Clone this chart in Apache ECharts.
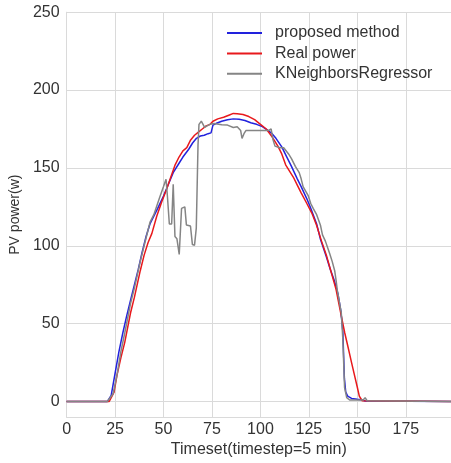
<!DOCTYPE html>
<html>
<head>
<meta charset="utf-8">
<script src="https://cdn.jsdelivr.net/npm/echarts@6/dist/echarts.min.js"></script>
<style>
html,body{margin:0;padding:0;background:#fff;}
#chart{width:451px;height:463px;}
</style>
</head>
<body>
<div id="chart"></div>
<script>
const seriesNames = ['proposed method', 'Real power', 'KNeighborsRegressor'];
const xTicks = [0, 25, 50, 75, 100, 125, 150, 175];
const yTicks = [0, 50, 100, 150, 200, 250];

const proposed = [[0,0],[21,0],[22,0.5],[23,4],[25,18],[27,32],[29,44],[31,55],[33,65],[35,75],[37,85],[39,96],[41,106],[43,114],[45,119],[47,124],[50,132],[53,141],[55,147],[58,153],[60,157],[63,162],[65,166],[67,169],[69,170.5],[71,171],[73,172],[74.5,172.5],[75.5,177.5],[77,178.5],[80,180],[83,181],[86,181.5],[89,181.3],[92,180.5],[95,179],[98,178],[101,176.5],[104,174],[106,172],[108,169],[111,163.5],[114,156],[116,151],[119,143],[121,138],[124,130],[126,124],[129,114],[131,104],[134,93],[136,85],[138,78],[140,69],[141.5,58],[142.5,45],[143.3,15],[144,6],[145,3.5],[147,2],[150,1.5],[152,1.2],[154,0.3],[155,0],[199,0]];

const realPower = [[0,0],[22,0],[23,1],[24.5,6],[26,17],[28,28],[30,38],[33,57],[35,67],[38,84],[40,94],[42,102],[44,108],[46.5,119],[49,128],[51.5,136],[54,145],[56,152],[58,157],[60,161],[62,163],[64,168],[66,171],[68,173],[70,175],[72,177],[74,178],[75.5,180],[78,181.5],[81,182.5],[84,184],[86,185],[88,184.8],[91,184.3],[94,183],[97,181],[100,178],[103,175],[106,170],[109,164],[111,159],[113,152],[115,148],[117,144],[119,139],[121,134],[124,127],[126.5,121],[129,113],[131.5,103],[134,94],[136.5,83],[139,72],[141.7,55],[143.5,44],[145,36],[147,25],[148.5,17],[150,9],[151,3.5],[152.5,0.5],[153.5,0],[199,0]];

const knn = [[0,0],[21,0],[22,0.5],[24,5],[25,11],[25.5,12],[26,17],[28,32],[30,44],[33,63],[35,73],[38,90],[40,100],[43,115],[45,120],[48,131],[50,138],[51.3,142.7],[52,132],[53,114],[54.2,114],[55,139.5],[55.9,106],[56.9,104.6],[58.1,94.5],[59.3,124],[61,125],[61.8,113.4],[63.9,112.7],[64.9,100.8],[66,100.4],[66.9,111.3],[67.8,165],[68.3,178],[69.5,180],[70.5,179],[71.2,176],[72.5,177],[74,178],[76,178.5],[80,177.7],[83,177.5],[86,176],[88,176.5],[89,177],[89.8,174],[90.5,169],[91.5,172],[92.5,174],[97,174],[101,174],[104,174],[105.5,175],[106.5,168],[107.5,164],[110,163],[112,163],[114.5,159],[116,156],[118,151],[120,147],[121,143],[122,138],[123,137],[124.7,132],[126,127],[127.2,124],[129,120],[130,119],[131,113],[132,107],[133.5,103],[134.5,103],[135.7,95],[137,90],[138.3,84],[139,78],[139.7,71],[140.5,70],[141.7,57],[142.5,40],[143.4,9],[144.5,2.5],[146,1],[153,1],[154,2.5],[155,0.5],[156,0],[199,0]];

const colors = ['#2222dd', '#e8191c', '#858585'];
const gridColor = '#dadada';
const font = 'Liberation Sans, Arial, sans-serif';

const chart = echarts.init(document.getElementById('chart'), null, {renderer: 'canvas'});
chart.setOption({
  animation: false,
  backgroundColor: '#ffffff',
  grid: {left: 62, right: 0, top: 12.2, bottom: 36, containLabel: false},
  legend: {
    orient: 'vertical',
    left: 227,
    top: 25,
    padding: 0,
    icon: 'rect',
    itemWidth: 35,
    itemHeight: 2,
    itemGap: 4.4,
    data: seriesNames,
    textStyle: {fontFamily: font, fontSize: 16, color: '#333333', padding: [0, 0, 0, 8], lineHeight: 16}
  },
  xAxis: {
    type: 'value',
    min: 0,
    max: 198.3,
    interval: 25,
    name: 'Timeset(timestep=5 min)',
    nameLocation: 'middle',
    nameGap: 18,
    nameTextStyle: {fontFamily: font, fontSize: 16, color: '#333333'},
    axisLine: {show: true, onZero: false, lineStyle: {color: gridColor, width: 1}},
    axisTick: {show: false},
    axisLabel: {
      fontFamily: font, fontSize: 16, color: '#333333', margin: 4,
      showMaxLabel: false,
      formatter: v => (xTicks.indexOf(v) >= 0 ? String(v) : '')
    },
    splitLine: {show: true, showMaxLine: false, lineStyle: {color: gridColor, width: 1}}
  },
  yAxis: {
    type: 'value',
    min: -10,
    max: 250,
    interval: 10,
    name: 'PV power(w)',
    nameLocation: 'middle',
    nameGap: 36,
    nameTextStyle: {fontFamily: font, fontSize: 14, color: '#333333'},
    axisLine: {show: true, lineStyle: {color: gridColor, width: 1}},
    axisTick: {show: false},
    axisLabel: {
      fontFamily: font, fontSize: 16, color: '#333333', margin: 7,
      formatter: v => (yTicks.indexOf(v) >= 0 ? String(v) : '')
    },
    splitLine: {show: true, lineStyle: {color: ['transparent', gridColor, 'transparent', 'transparent', 'transparent'], width: 1}}
  },
  series: [
    {name: seriesNames[0], type: 'line', data: proposed, symbol: 'none', lineStyle: {color: colors[0], width: 1.5}, itemStyle: {color: colors[0]}},
    {name: seriesNames[1], type: 'line', data: realPower, symbol: 'none', lineStyle: {color: colors[1], width: 1.5}, itemStyle: {color: colors[1]}},
    {name: seriesNames[2], type: 'line', data: knn, symbol: 'none', lineStyle: {color: colors[2], width: 1.5}, itemStyle: {color: colors[2]}}
  ]
});
</script>
</body>
</html>
